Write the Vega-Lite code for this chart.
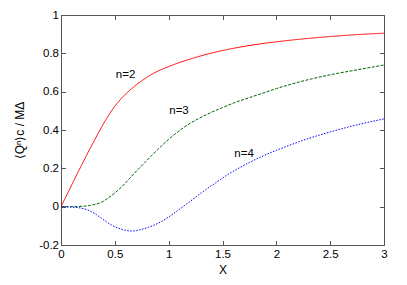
{
  "$schema": "https://vega.github.io/schema/vega-lite/v6.json",
  "width": 323,
  "height": 230,
  "autosize": {"type": "none"},
  "padding": {"left": 61, "top": 15, "right": 23, "bottom": 40},
  "background": "white",
  "config": {
    "view": {"stroke": null},
    "axis": {
      "grid": false,
      "domainColor": "#555555",
      "domainWidth": 1,
      "tickColor": "#555555",
      "tickSize": -4.5,
      "labelFont": "Liberation Sans",
      "labelFontSize": 11.5,
      "labelColor": "#000000",
      "titleFont": "Liberation Sans",
      "titleFontSize": 12,
      "titleFontWeight": "normal",
      "titleColor": "#000000"
    }
  },
  "datasets": {
    "curves": [
      {"x": 0, "y": 0, "n": "n=2"},
      {"x": 0.05, "y": 0.057, "n": "n=2"},
      {"x": 0.1, "y": 0.114, "n": "n=2"},
      {"x": 0.156, "y": 0.178, "n": "n=2"},
      {"x": 0.2, "y": 0.226, "n": "n=2"},
      {"x": 0.25, "y": 0.282, "n": "n=2"},
      {"x": 0.313, "y": 0.349, "n": "n=2"},
      {"x": 0.375, "y": 0.413, "n": "n=2"},
      {"x": 0.437, "y": 0.472, "n": "n=2"},
      {"x": 0.5, "y": 0.524, "n": "n=2"},
      {"x": 0.591, "y": 0.582, "n": "n=2"},
      {"x": 0.667, "y": 0.621, "n": "n=2"},
      {"x": 0.746, "y": 0.655, "n": "n=2"},
      {"x": 0.82, "y": 0.683, "n": "n=2"},
      {"x": 0.9, "y": 0.707, "n": "n=2"},
      {"x": 1.0, "y": 0.731, "n": "n=2"},
      {"x": 1.1, "y": 0.752, "n": "n=2"},
      {"x": 1.228, "y": 0.775, "n": "n=2"},
      {"x": 1.38, "y": 0.799, "n": "n=2"},
      {"x": 1.537, "y": 0.819, "n": "n=2"},
      {"x": 1.7, "y": 0.836, "n": "n=2"},
      {"x": 1.846, "y": 0.849, "n": "n=2"},
      {"x": 2.0, "y": 0.86, "n": "n=2"},
      {"x": 2.155, "y": 0.87, "n": "n=2"},
      {"x": 2.3, "y": 0.878, "n": "n=2"},
      {"x": 2.464, "y": 0.886, "n": "n=2"},
      {"x": 2.7, "y": 0.896, "n": "n=2"},
      {"x": 3.0, "y": 0.905, "n": "n=2"},
      {"x": 0, "y": 0, "n": "n=3"},
      {"x": 0.1, "y": 0.0, "n": "n=3"},
      {"x": 0.2, "y": 0.002, "n": "n=3"},
      {"x": 0.266, "y": 0.006, "n": "n=3"},
      {"x": 0.32, "y": 0.013, "n": "n=3"},
      {"x": 0.375, "y": 0.023, "n": "n=3"},
      {"x": 0.42, "y": 0.038, "n": "n=3"},
      {"x": 0.467, "y": 0.057, "n": "n=3"},
      {"x": 0.53, "y": 0.086, "n": "n=3"},
      {"x": 0.591, "y": 0.119, "n": "n=3"},
      {"x": 0.65, "y": 0.155, "n": "n=3"},
      {"x": 0.715, "y": 0.194, "n": "n=3"},
      {"x": 0.78, "y": 0.231, "n": "n=3"},
      {"x": 0.839, "y": 0.265, "n": "n=3"},
      {"x": 0.9, "y": 0.299, "n": "n=3"},
      {"x": 1.0, "y": 0.351, "n": "n=3"},
      {"x": 1.1, "y": 0.397, "n": "n=3"},
      {"x": 1.2, "y": 0.435, "n": "n=3"},
      {"x": 1.3, "y": 0.466, "n": "n=3"},
      {"x": 1.4, "y": 0.493, "n": "n=3"},
      {"x": 1.5, "y": 0.517, "n": "n=3"},
      {"x": 1.6, "y": 0.54, "n": "n=3"},
      {"x": 1.75, "y": 0.569, "n": "n=3"},
      {"x": 1.9, "y": 0.597, "n": "n=3"},
      {"x": 2.0, "y": 0.616, "n": "n=3"},
      {"x": 2.15, "y": 0.641, "n": "n=3"},
      {"x": 2.3, "y": 0.663, "n": "n=3"},
      {"x": 2.5, "y": 0.688, "n": "n=3"},
      {"x": 2.75, "y": 0.714, "n": "n=3"},
      {"x": 3.0, "y": 0.739, "n": "n=3"},
      {"x": 0, "y": 0, "n": "n=4"},
      {"x": 0.158, "y": -0.005, "n": "n=4"},
      {"x": 0.282, "y": -0.026, "n": "n=4"},
      {"x": 0.33, "y": -0.042, "n": "n=4"},
      {"x": 0.375, "y": -0.06, "n": "n=4"},
      {"x": 0.42, "y": -0.078, "n": "n=4"},
      {"x": 0.467, "y": -0.095, "n": "n=4"},
      {"x": 0.53, "y": -0.112, "n": "n=4"},
      {"x": 0.591, "y": -0.122, "n": "n=4"},
      {"x": 0.653, "y": -0.127, "n": "n=4"},
      {"x": 0.7, "y": -0.125, "n": "n=4"},
      {"x": 0.746, "y": -0.119, "n": "n=4"},
      {"x": 0.81, "y": -0.108, "n": "n=4"},
      {"x": 0.87, "y": -0.095, "n": "n=4"},
      {"x": 0.93, "y": -0.078, "n": "n=4"},
      {"x": 0.994, "y": -0.056, "n": "n=4"},
      {"x": 1.05, "y": -0.034, "n": "n=4"},
      {"x": 1.104, "y": -0.012, "n": "n=4"},
      {"x": 1.15, "y": 0.007, "n": "n=4"},
      {"x": 1.228, "y": 0.04, "n": "n=4"},
      {"x": 1.32, "y": 0.079, "n": "n=4"},
      {"x": 1.43, "y": 0.122, "n": "n=4"},
      {"x": 1.537, "y": 0.163, "n": "n=4"},
      {"x": 1.7, "y": 0.216, "n": "n=4"},
      {"x": 1.846, "y": 0.257, "n": "n=4"},
      {"x": 2.0, "y": 0.294, "n": "n=4"},
      {"x": 2.155, "y": 0.327, "n": "n=4"},
      {"x": 2.3, "y": 0.356, "n": "n=4"},
      {"x": 2.464, "y": 0.384, "n": "n=4"},
      {"x": 2.7, "y": 0.42, "n": "n=4"},
      {"x": 3.0, "y": 0.458, "n": "n=4"}
    ],
    "labels": [
      {"x": 0.6, "y": 0.687, "text": "n=2"},
      {"x": 1.096, "y": 0.498, "text": "n=3"},
      {"x": 1.7, "y": 0.274, "text": "n=4"}
    ]
  },
  "layer": [
    {
      "mark": {"type": "rule", "color": "#aaaaaa", "strokeWidth": 0.8, "strokeDash": [1, 2]},
      "encoding": {
        "y": {"datum": 0, "type": "quantitative", "scale": {"domain": [-0.2, 1]}, "axis": null}
      }
    },
    {
      "data": {"name": "curves"},
      "mark": {"type": "line", "strokeWidth": 1, "clip": true, "interpolate": "monotone"},
      "encoding": {
        "x": {
          "field": "x", "type": "quantitative",
          "scale": {"domain": [0, 3], "nice": false, "zero": false},
          "axis": {"title": "X", "values": [0, 0.5, 1, 1.5, 2, 2.5, 3], "format": "~g", "labelPadding": 8, "titlePadding": 4, "labelFlush": false}
        },
        "y": {
          "field": "y", "type": "quantitative",
          "scale": {"domain": [-0.2, 1], "nice": false, "zero": false},
          "axis": {"title": "⟨Qⁿ⟩c / MΔ", "values": [-0.2, 0, 0.2, 0.4, 0.6, 0.8, 1], "labelExpr": "replace(format(datum.value, '~g'), '−', '-')", "labelPadding": 7, "titlePadding": 12, "labelFlush": false}
        },
        "color": {
          "field": "n", "type": "nominal",
          "scale": {"domain": ["n=2", "n=3", "n=4"], "range": ["#ff0000", "#006400", "#0000ff"]},
          "legend": null
        },
        "strokeDash": {
          "field": "n", "type": "nominal",
          "scale": {"domain": ["n=2", "n=3", "n=4"], "range": [[1, 0], [3, 1.5], [1.5, 1.5]]},
          "legend": null
        }
      }
    },
    {
      "data": {"name": "labels"},
      "mark": {"type": "text", "font": "Liberation Sans", "fontSize": 11.5, "color": "#000000", "align": "center", "baseline": "middle"},
      "encoding": {
        "x": {"field": "x", "type": "quantitative", "axis": null},
        "y": {"field": "y", "type": "quantitative", "axis": null},
        "text": {"field": "text"}
      }
    },
    {
      "data": {"name": "curves"},
      "mark": {"type": "point", "opacity": 0},
      "encoding": {
        "x": {
          "field": "x", "type": "quantitative",
          "axis": {"orient": "top", "title": null, "labels": false, "values": [0, 0.5, 1, 1.5, 2, 2.5, 3]}
        },
        "y": {
          "field": "y", "type": "quantitative",
          "axis": {"orient": "right", "title": null, "labels": false, "values": [-0.2, 0, 0.2, 0.4, 0.6, 0.8, 1]}
        }
      }
    }
  ],
  "resolve": {"axis": {"x": "independent", "y": "independent"}}
}
